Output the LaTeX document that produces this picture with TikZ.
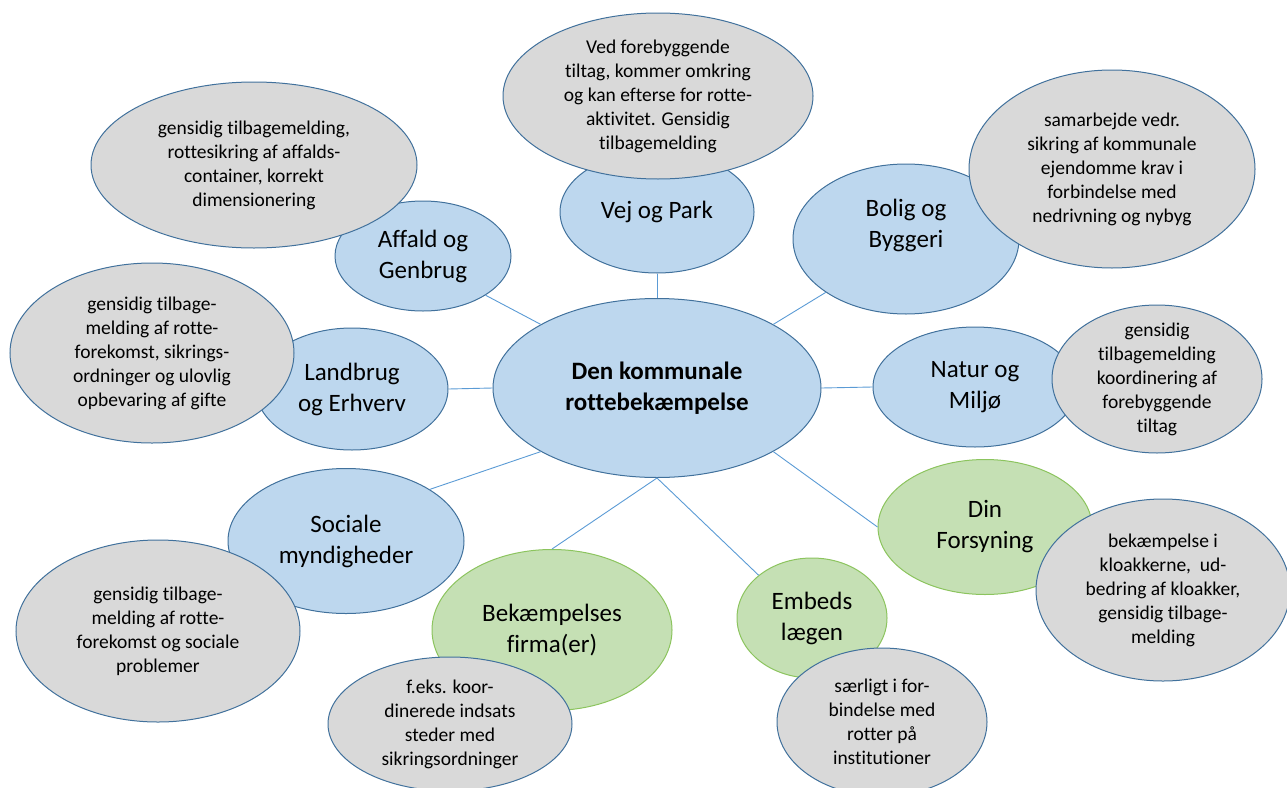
\documentclass[tikz,border=0pt]{standalone}
\usepackage{fontspec}
\setmainfont{Carlito}[Ligatures=NoCommon]
\usetikzlibrary{shapes.geometric}
\definecolor{bluefill}{HTML}{BDD7EE}
\definecolor{blueline}{HTML}{41719C}
\definecolor{greenfill}{HTML}{C5E0B4}
\definecolor{greenline}{HTML}{8CC45E}
\definecolor{greyfill}{HTML}{D9D9D9}
\definecolor{linkline}{HTML}{5B9BD5}
\begin{document}
\begin{tikzpicture}[x=1pt,y=-1pt,
    dims/.style 2 args={minimum width=#1pt,minimum height=#2pt},
    topic/.style={ellipse,draw=blueline,fill=bluefill,line width=1pt,
      inner sep=-30pt,align=center,font=\fontsize{25}{31}\selectfont},
    hub/.style={topic,font=\bfseries\fontsize{25}{31.5}\selectfont},
    partner/.style={topic,draw=greenline,fill=greenfill},
    note/.style={topic,fill=greyfill,font=\fontsize{19.5}{24}\selectfont},
    link/.style={draw=linkline,line width=0.9pt}]
  \useasboundingbox (0,0) rectangle (1287,787);
  \node[hub,dims={328}{179}] (hub) at (657,388) {Den kommunale\\rottebekæmpelse};
  \node[topic,dims={194}{122}] (vej) at (657,212) {Vej og Park};
  \node[topic,dims={176}{110}] (affald) at (423,256) {Affald og\\Genbrug};
  \node[topic,dims={226}{150}] (bolig) at (906,239) {Bolig og\\Byggeri\\\mbox{}};
  \node[topic,dims={192}{122}] (landbrug) at (352,389) {Landbrug\\og Erhverv};
  \node[topic,dims={204}{120}] (natur) at (975,387) {Natur og\\Miljø};
  \node[topic,dims={236}{145}] (sociale) at (346,541) {Sociale\\myndigheder};
  \node[partner,dims={240}{161}] (firma) at (552,630) {Bekæmpelses\\firma(er)};
  \node[partner,dims={150}{120}] (embeds) at (812,618) {Embeds\\lægen};
  \node[partner,dims={214}{135}] (forsyning) at (985,527) {Din\\Forsyning};
  % notes lie over the topics
  \node[note,dims={310}{166}] (vejnote) at (658,96)
    {Ved forebyggende\\tiltag, kommer omkring\\og kan efterse for rotte-\\aktivitet. Gensidig\\tilbagemelding};
  \node[note,dims={326}{166}] (affaldnote) at (254,165)
    {gensidig tilbagemelding,\\rottesikring af affalds-\\container, korrekt\\dimensionering};
  \node[note,dims={286}{198}] (bolignote) at (1112,169)
    {samarbejde vedr.\\sikring af kommunale\\ejendomme krav i\\forbindelse med\\nedrivning og nybyg};
  \node[note,dims={284}{180}] (landbrugnote) at (152,353)
    {gensidig tilbage-\\melding af rotte-\\forekomst, sikrings-\\ordninger og ulovlig\\opbevaring af gifte};
  \node[note,dims={210}{148}] (naturnote) at (1157,379)
    {gensidig\\tilbagemelding\\koordinering af\\forebyggende\\tiltag};
  \node[note,dims={254}{182}] (forsyningnote) at (1163,590)
    {bekæmpelse i\\kloakkerne,\ \ ud-\\bedring af kloakker,\\gensidig tilbage-\\melding};
  \node[note,dims={210}{148}] (embedsnote) at (882,722)
    {særligt i for-\\bindelse med\\rotter på\\institutioner};
  \node[note,dims={244}{134}] (firmanote) at (450,724)
    {f.eks. koor-\\dinerede indsats\\steder med\\sikringsordninger};
  \node[note,dims={284}{182}] (socialenote) at (158,631)
    {gensidig tilbage-\\melding af rotte-\\forekomst og sociale\\problemer};
  \begin{scope}[link]
    \draw (vej.south) -- (hub.north);
    \draw (affald.south east) -- (hub.north west);
    \draw (bolig.south west) -- (hub.north east);
    \draw (landbrug.east) -- (hub.west);
    \draw (natur.west) -- (hub.east);
    \draw (sociale.north east) -- (hub.south west);
    \draw (firma.north) -- (hub.south);
    \draw (embeds.north west) -- (hub.south);
    \draw (forsyning.west) -- (hub.south east);
  \end{scope}
\end{tikzpicture}
\end{document}
